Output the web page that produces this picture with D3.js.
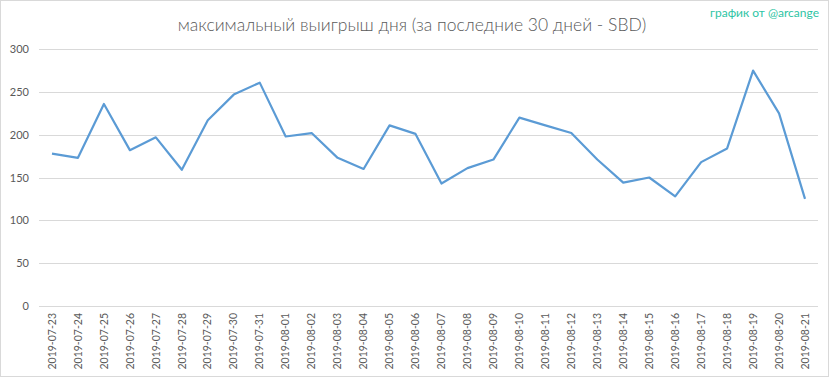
<!DOCTYPE html>
<html><head><meta charset="utf-8">
<script src="https://cdn.jsdelivr.net/npm/d3@7"></script>
<style>body{margin:0;background:#fff}</style>
</head><body>
<svg id="c" width="833" height="379"></svg>
<script>
const dates = ["2019-07-23","2019-07-24","2019-07-25","2019-07-26","2019-07-27","2019-07-28","2019-07-29","2019-07-30","2019-07-31","2019-08-01","2019-08-02","2019-08-03","2019-08-04","2019-08-05","2019-08-06","2019-08-07","2019-08-08","2019-08-09","2019-08-10","2019-08-11","2019-08-12","2019-08-13","2019-08-14","2019-08-15","2019-08-16","2019-08-17","2019-08-18","2019-08-19","2019-08-20","2019-08-21"];
const values = [178,173,236,182,197,159,217,247,261,198,202,173,160,211,201,143,161,171,220,211,202,171,144,150,128,168,184,275,225,125];
const yTicks = [0,50,100,150,200,250,300];
const title = "максимальный выигрыш дня (за последние 30 дней - SBD)";
const credit = "график от @arcange";

const svg = d3.select("#c");
const font = "Lato, 'Open Sans', sans-serif";
svg.append("rect").attr("x",0.5).attr("y",0.5).attr("width",828).attr("height",376)
  .attr("fill","#fff").attr("stroke","#d9d9d9");

const x = d3.scaleBand().domain(dates).range([39,818]);
const y = d3.scaleLinear().domain([0,300]).range([305.7,49.3]);

const grid = svg.append("g");
grid.selectAll("line").data(yTicks).join("line")
  .attr("x1",39).attr("x2",818)
  .attr("y1",d=>Math.round(y(d))+0.5).attr("y2",d=>Math.round(y(d))+0.5)
  .attr("stroke","#d9d9d9").attr("stroke-width",1);

const yAxis = svg.append("g").attr("transform","translate(29,0)")
  .call(d3.axisLeft(y).tickValues(yTicks).tickSize(0).tickPadding(0));
yAxis.select(".domain").remove();
yAxis.selectAll("text").attr("font-family",font).attr("font-size",11).attr("fill","#595959");

const xAxis = svg.append("g").attr("transform","translate(0,306)")
  .call(d3.axisBottom(x).tickSize(0).tickPadding(0));
xAxis.select(".domain").remove();
xAxis.selectAll("text").attr("font-family",font).attr("font-size",10.5).attr("fill","#595959")
  .attr("transform","rotate(-90)").attr("text-anchor","end")
  .attr("x",-7).attr("y",0).attr("dy","0.35em");

const line = d3.line().x((d,i)=>x(dates[i])+x.bandwidth()/2).y(d=>y(d));
svg.append("path").datum(values).attr("d",line).attr("fill","none")
  .attr("stroke","#5b9bd5").attr("stroke-width",2.2).attr("stroke-linejoin","round");

svg.append("text").attr("x",412).attr("y",31).attr("text-anchor","middle")
  .attr("font-family",font).attr("font-weight",300).attr("font-size",17.5).attr("fill","#595959").text(title);
svg.append("text").attr("x",819).attr("y",17).attr("text-anchor","end")
  .attr("font-family",font).attr("font-size",12).attr("fill","#2ec4a4").text(credit);
</script>
</body></html>
